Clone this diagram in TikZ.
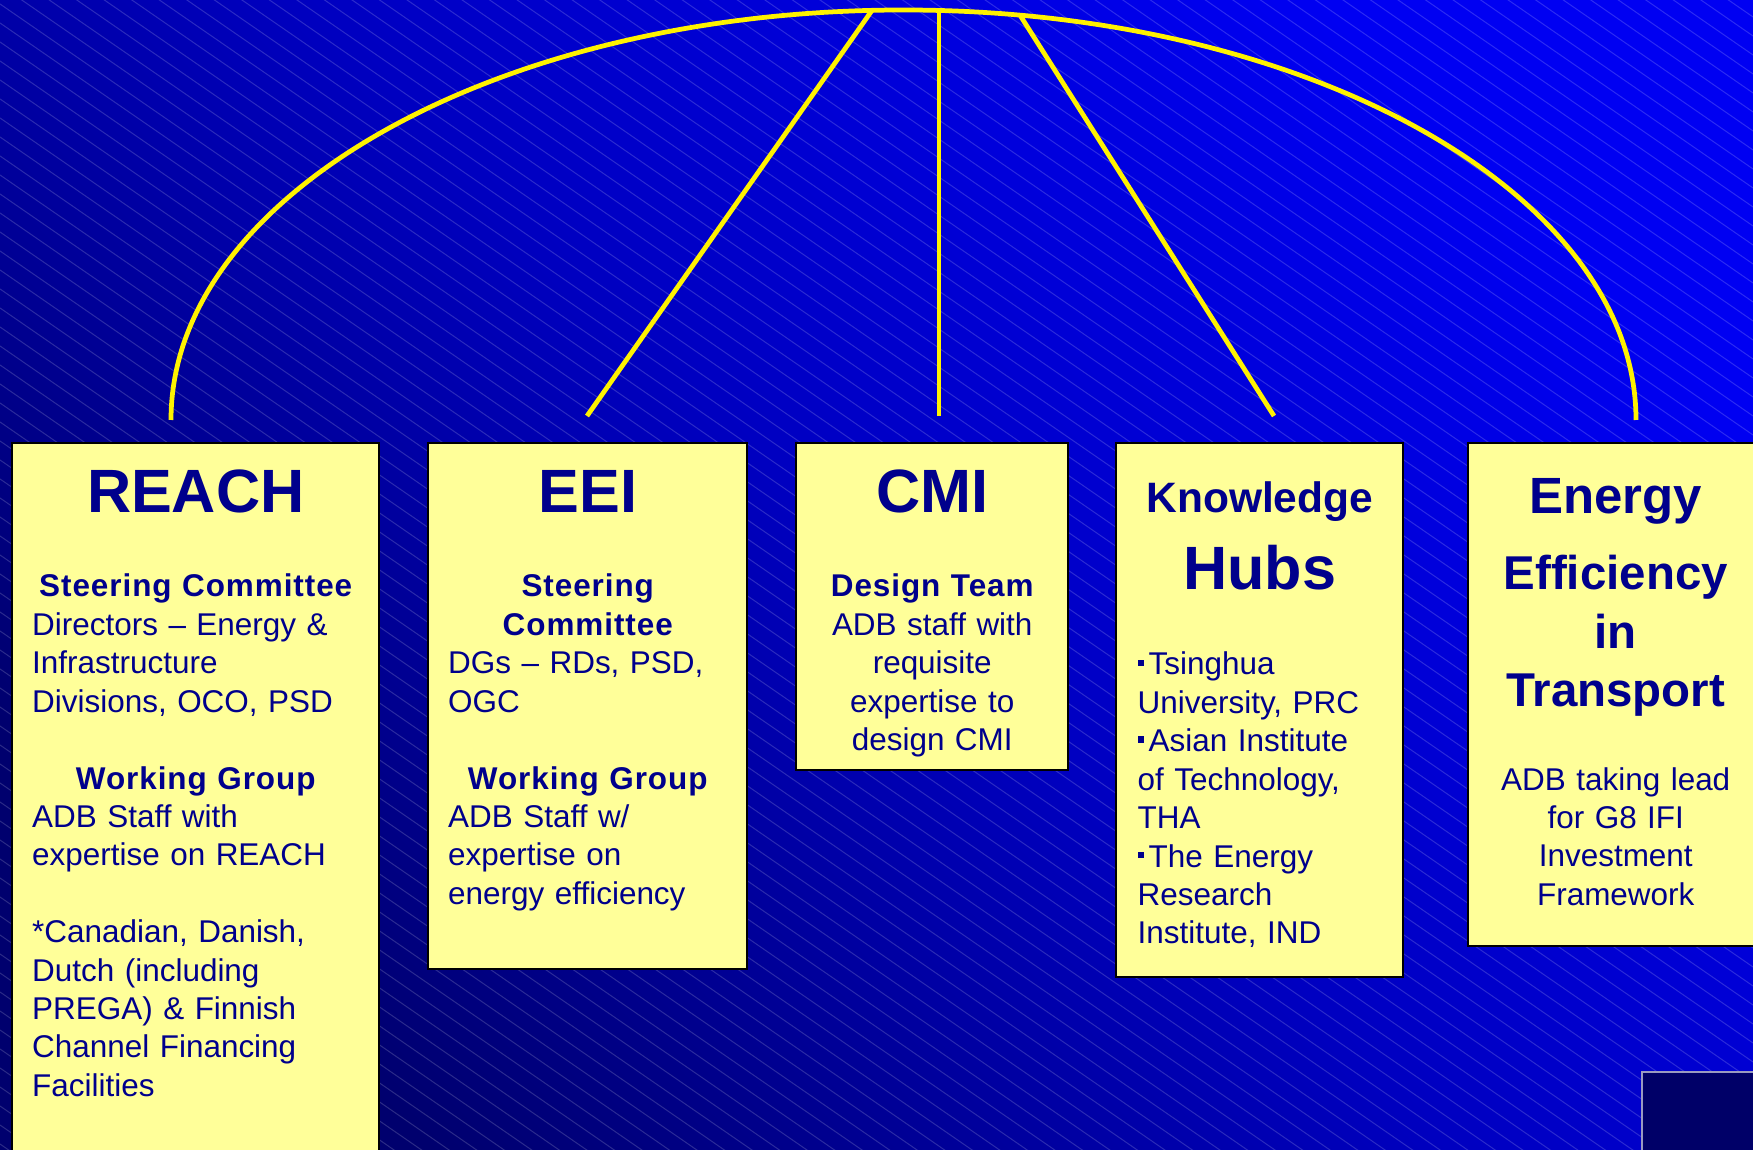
\documentclass[tikz,border=0pt]{standalone}
\usepackage{fontspec}
\setmainfont{Liberation Sans}
\definecolor{panelfill}{HTML}{FFFF99}
\definecolor{ink}{HTML}{00008C}
\definecolor{bgdark}{HTML}{00006E}
\definecolor{bgmid}{HTML}{0000C0}
\definecolor{bgbright}{HTML}{0000F2}
\definecolor{cornerfill}{HTML}{000068}
\definecolor{cornerline}{HTML}{9A9AC0}
\newcommand\hd[1]{\hfill{\bfseries\addfontfeature{LetterSpace=3}#1}\hfill\null}
\newcommand\sqb{\rule[.29em]{.2em}{.2em}\hspace{.15em}}

\begin{document}
\begin{tikzpicture}[
  panel/.style={draw=black, line width=0.7pt, fill=panelfill, anchor=north west, inner sep=0pt},
  title/.style={font=\fontsize{17.4}{20}\selectfont\bfseries, text=ink, anchor=base, inner sep=0pt},
  subtitle/.style={title, font=\fontsize{13.5}{16.6}\selectfont\bfseries, text width=2.9cm, align=center},
  body/.style={font=\fontsize{8.95}{10.93}\selectfont, text=ink, anchor=base, inner sep=0pt},
  link/.style={draw=yellow, line width=1.35pt},
  stripe/.style={draw=white, opacity=0.17, line width=0.28pt},
]
\useasboundingbox (0,0) rectangle (17.53,-11.50);
\shade[bottom color=bgdark, top color=bgbright, middle color=bgmid, shading angle=-45] (0,0) rectangle (17.53,-11.50);
\begin{scope}
  \clip (0,0) rectangle (17.53,-11.50);
  \foreach \b in {-11.44,-11.25,...,12.2}
    \draw[stripe] (0,\b) -- ++(17.53,-12.1);
\end{scope}
\draw[cornerline, fill=cornerfill, line width=0.4pt] (16.42,-10.72) rectangle (17.70,-11.70);

% boxes
\foreach \n/\x/\w/\h in {reach/0.11/3.67/7.40,eei/4.27/3.19/5.26,cmi/7.95/2.72/3.27,hubs/11.15/2.87/5.34,transport/14.67/2.95/5.03}
  \node[panel, minimum width=\w cm, minimum height=\h cm] (\n) at (\x,-4.42) {};

% arc and links
\coordinate (reachend) at (1.71,-4.20);
\coordinate (eeitop) at (8.72,-0.104);
\coordinate (cmitop) at (9.39,-0.105);
\coordinate (hubstop) at (10.20,-0.152);
\coordinate (eeiend) at (5.87,-4.16);
\coordinate (cmiend) at (9.39,-4.16);
\coordinate (hubsend) at (12.74,-4.16);
\draw[link] (reachend) arc[start angle=180, end angle=0, x radius=7.325, y radius=4.10];
\draw[link] (eeitop) -- (eeiend);
\draw[link] (cmitop) -- (cmiend);
\draw[link] (hubstop) -- (hubsend);

% REACH
\node[title] (reachtitle) at ([yshift=-0.71cm]reach.north) {REACH};
\node[body, text width=3.27cm, align=left] (reachtext) at ([yshift=-1.55cm]reach.north) {%
  \hd{Steering Committee}\\
  Directors -- Energy \&\\
  Infrastructure\\
  Divisions, OCO, PSD\\[\baselineskip]
  \hd{Working Group}\\
  ADB Staff with\\
  expertise on REACH\\[\baselineskip]
  *Canadian, Danish,\\
  Dutch (including\\
  PREGA) \& Finnish\\
  Channel Financing\\
  Facilities};

% EEI
\node[title] (eeititle) at ([yshift=-0.71cm]eei.north) {EEI};
\node[body, text width=2.79cm, align=left] (eeitext) at ([yshift=-1.55cm]eei.north) {%
  \hd{Steering}\\
  \hd{Committee}\\
  DGs -- RDs, PSD,\\
  OGC\\[\baselineskip]
  \hd{Working Group}\\
  ADB Staff w/\\
  expertise on\\
  energy efficiency};

% CMI
\node[title] (cmititle) at ([yshift=-0.71cm]cmi.north) {CMI};
\node[body, text width=2.6cm, align=left] (cmitext) at ([yshift=-1.55cm]cmi.north) {%
  \hd{Design Team}\\
  \hfill ADB staff with\hfill\null\\
  \hfill requisite\hfill\null\\
  \hfill expertise to\hfill\null\\
  \hfill design CMI\hfill\null};

% Knowledge Hubs
\node[title, font=\fontsize{12.1}{14}\selectfont\bfseries] (hubstitle) at ([yshift=-0.71cm]hubs.north) {Knowledge};
\node[title] (hubsname) at ([yshift=-1.48cm]hubs.north) {Hubs};
\node[body, text width=2.6cm, align=left, anchor=base west] (hubstext) at ([xshift=0.22cm, yshift=-2.33cm]hubs.north west) {%
  \sqb Tsinghua\\
  University, PRC\\
  \sqb Asian Institute\\
  of Technology,\\
  THA\\
  \sqb The Energy\\
  Research\\
  Institute, IND};

% Energy Efficiency in Transport
\node[title, font=\fontsize{14.5}{17}\selectfont\bfseries] (transporttitle) at ([yshift=-0.72cm]transport.north) {Energy};
\node[subtitle] (transportname) at ([yshift=-1.48cm]transport.north) {Efficiency\\ in\\ Transport};
\node[body, text width=2.7cm, align=center] (transporttext) at ([yshift=-3.48cm]transport.north) {%
  ADB taking lead\\
  for G8 IFI\\
  Investment\\
  Framework};
\end{tikzpicture}
\end{document}
